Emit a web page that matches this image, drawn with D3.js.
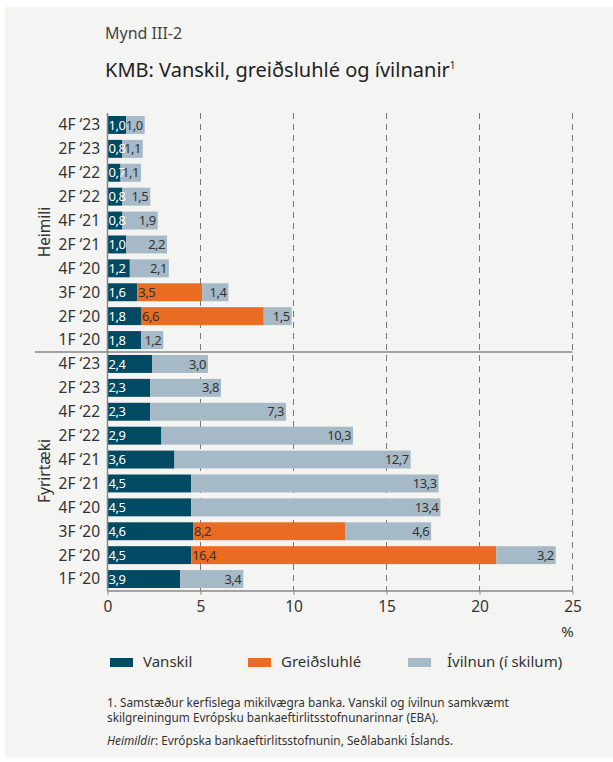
<!DOCTYPE html>
<html>
<head>
<meta charset="utf-8">
<script src="https://cdn.jsdelivr.net/npm/d3@7"></script>
<style>
  body { margin: 0; background: #fff; }
  svg { display: block; font-family: "Noto Sans", sans-serif; }
</style>
</head>
<body>
<svg id="chart" width="613" height="762"></svg>
<script>
"use strict";

// periods, top to bottom (same for both groups)
var periods = ["4F ‘23", "2F ‘23", "4F ‘22", "2F ‘22", "4F ‘21", "2F ‘21", "4F ‘20", "3F ‘20", "2F ‘20", "1F ‘20"];

var heimiliVanskil = [1.0, 0.8, 0.7, 0.8, 0.8, 1.0, 1.2, 1.6, 1.8, 1.8];
var heimiliGreidsluhle = [0, 0, 0, 0, 0, 0, 0, 3.5, 6.6, 0];
var heimiliIvilnun = [1.0, 1.1, 1.1, 1.5, 1.9, 2.2, 2.1, 1.4, 1.5, 1.2];

var fyrirtaekiVanskil = [2.4, 2.3, 2.3, 2.9, 3.6, 4.5, 4.5, 4.6, 4.5, 3.9];
var fyrirtaekiGreidsluhle = [0, 0, 0, 0, 0, 0, 0, 8.2, 16.4, 0];
var fyrirtaekiIvilnun = [3.0, 3.8, 7.3, 10.3, 12.7, 13.3, 13.4, 4.6, 3.2, 3.4];

var xTicks = [0, 5, 10, 15, 20, 25];
var seriesKeys = ["vanskil", "greidsluhle", "ivilnun"];
var seriesNames = ["Vanskil", "Greiðsluhlé", "Ívilnun (í skilum)"];
var colors = ["#004a63", "#ea6b22", "#a6b9c7"];

var rows = [];
periods.forEach(function (p, i) {
  rows.push({ id: "h" + i, label: p, vanskil: heimiliVanskil[i], greidsluhle: heimiliGreidsluhle[i], ivilnun: heimiliIvilnun[i] });
});
periods.forEach(function (p, i) {
  rows.push({ id: "f" + i, label: p, vanskil: fyrirtaekiVanskil[i], greidsluhle: fyrirtaekiGreidsluhle[i], ivilnun: fyrirtaekiIvilnun[i] });
});

var svg = d3.select("#chart");

svg.append("rect").attr("x", 5).attr("y", 7).attr("width", 608).attr("height", 751).attr("fill", "#f4f4f2");

var x = d3.scaleLinear().domain([0, 25]).range([107.5, 572.5]);
var y = d3.scaleBand().domain(rows.map(function (d) { return d.id; })).range([113, 591]).paddingInner(0.25).paddingOuter(0.125);

var fmt = function (v) { return d3.format(".1f")(v).replace(".", ","); };

// title
svg.append("text").attr("x", 105).attr("y", 39).attr("font-size", 16).attr("fill", "#444").text("Mynd III-2");
var title = svg.append("text").attr("x", 105).attr("y", 77).attr("font-size", 20).attr("fill", "#222").text("KMB: Vanskil, greiðsluhlé og ívilnanir");
title.append("tspan").attr("font-size", 10).attr("dy", -8).text("1");

// gridlines
svg.append("g").selectAll("line").data(xTicks.slice(1)).enter().append("line")
  .attr("x1", function (d) { return x(d); }).attr("x2", function (d) { return x(d); })
  .attr("y1", 113).attr("y2", 591)
  .attr("stroke", "#777").attr("stroke-width", 1).attr("stroke-dasharray", "6,5");

// bars
var stack = d3.stack().keys(seriesKeys);
var stacked = stack(rows);

var layers = svg.append("g").selectAll("g").data(stacked).enter().append("g")
  .attr("fill", function (d, i) { return colors[i]; });

layers.selectAll("rect").data(function (d) { return d; }).enter().append("rect")
  .attr("x", function (d) { return x(d[0]); })
  .attr("width", function (d) { return x(d[1]) - x(d[0]); })
  .attr("y", function (d) { return y(d.data.id); })
  .attr("height", y.bandwidth());

// value labels
stacked.forEach(function (layer, li) {
  svg.append("g").selectAll("text").data(layer.filter(function (d) { return d[1] - d[0] > 0; })).enter().append("text")
    .attr("x", function (d) { return li === 2 ? x(d[1]) - 2 : x(d[0]) + 1; })
    .attr("y", function (d) { return y(d.data.id) + y.bandwidth() / 2; })
    .attr("dy", "0.35em")
    .attr("text-anchor", li === 2 ? "end" : "start")
    .attr("font-size", 13)
    .attr("letter-spacing", -0.5)
    .attr("fill", li === 0 ? "#fff" : "#333")
    .text(function (d) { return fmt(d[1] - d[0]); });
});

// axes lines
svg.append("line").attr("x1", x(0)).attr("x2", x(0)).attr("y1", 113).attr("y2", 591).attr("stroke", "#888").attr("stroke-width", 1.5);
svg.append("line").attr("x1", x(0)).attr("x2", x(25)).attr("y1", 591).attr("y2", 591).attr("stroke", "#888").attr("stroke-width", 1.5);
svg.append("line").attr("x1", 35).attr("x2", x(25)).attr("y1", 352).attr("y2", 352).attr("stroke", "#888").attr("stroke-width", 1.5);

// x ticks
var xAxis = svg.append("g").attr("transform", "translate(0,591)")
  .call(d3.axisBottom(x).tickValues(xTicks).tickSize(4).tickPadding(6));
xAxis.select(".domain").remove();
xAxis.selectAll("line").attr("stroke", "#888");
xAxis.selectAll("text").attr("font-size", 15.5).attr("fill", "#333").attr("font-family", "Noto Sans, sans-serif");
svg.append("text").attr("x", x(25) - 5).attr("y", 637).attr("text-anchor", "middle").attr("font-size", 15).attr("fill", "#333").text("%");

// y labels
svg.append("g").selectAll("text").data(rows).enter().append("text")
  .attr("x", 100).attr("y", function (d) { return y(d.id) + y.bandwidth() / 2; })
  .attr("dy", "0.35em").attr("text-anchor", "end")
  .attr("font-size", 15.5).attr("fill", "#333")
  .text(function (d) { return d.label; });

// group labels
svg.append("text").attr("transform", "translate(50,232) rotate(-90)").attr("text-anchor", "middle")
  .attr("font-size", 15.5).attr("fill", "#333").text("Heimili");
svg.append("text").attr("transform", "translate(50,471) rotate(-90)").attr("text-anchor", "middle")
  .attr("font-size", 15.5).attr("fill", "#333").text("Fyrirtæki");

// legend
var legendX = [110, 248, 408];
var legend = svg.append("g").selectAll("g").data(seriesNames).enter().append("g")
  .attr("transform", function (d, i) { return "translate(" + legendX[i] + ",662)"; });
legend.append("rect").attr("x", 0).attr("y", -4).attr("width", 23).attr("height", 9)
  .attr("fill", function (d, i) { return colors[i]; });
legend.append("text").attr("x", function (d, i) { return i === 2 ? 39 : 33; }).attr("dy", "0.35em")
  .attr("font-size", 15).attr("fill", "#333").text(function (d) { return d; });

// footnotes
svg.append("text").attr("x", 107).attr("y", 707).attr("font-size", 11.8).attr("fill", "#333")
  .text("1. Samstæður kerfislega mikilvægra banka. Vanskil og ívilnun samkvæmt");
svg.append("text").attr("x", 107).attr("y", 722).attr("font-size", 11.8).attr("fill", "#333")
  .text("skilgreiningum Evrópsku bankaeftirlitsstofnunarinnar (EBA).");
var src = svg.append("text").attr("x", 107).attr("y", 745).attr("font-size", 11.8).attr("fill", "#333");
src.append("tspan").attr("font-style", "italic").text("Heimildir");
src.append("tspan").text(": Evrópska bankaeftirlitsstofnunin, Seðlabanki Íslands.");
</script>
</body>
</html>
